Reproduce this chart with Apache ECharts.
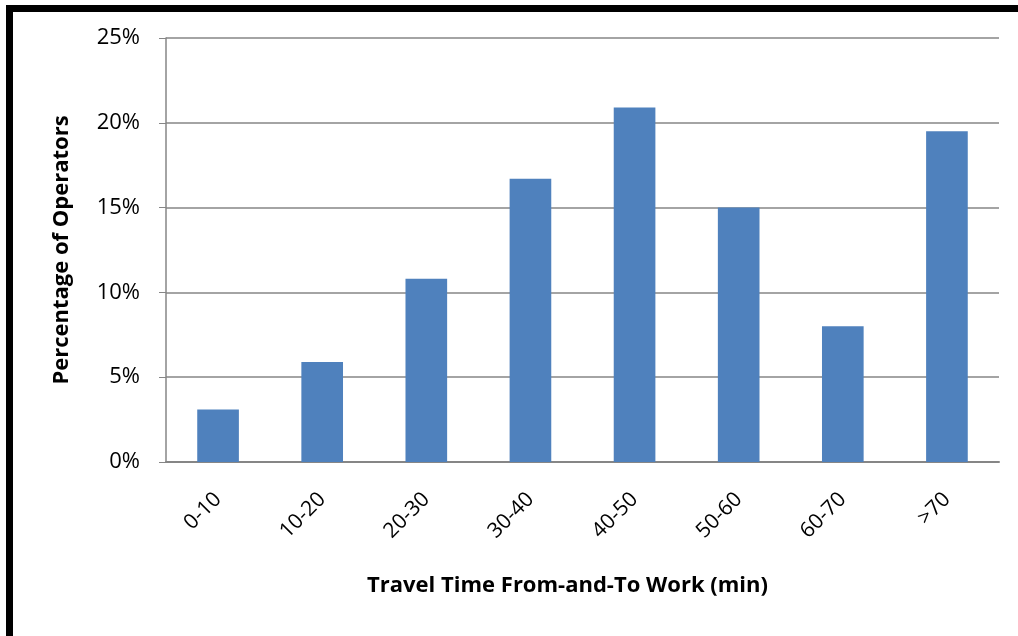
<!DOCTYPE html>
<html>
<head>
<meta charset="utf-8">
<script src="https://cdn.jsdelivr.net/npm/echarts@6/dist/echarts.min.js"></script>
<style>
  html, body { margin: 0; padding: 0; background: #fff; }
  #chart { width: 1018px; height: 636px; }
</style>
</head>
<body>
<div id="chart"></div>
<script>
const categories = ["0-10", "10-20", "20-30", "30-40", "40-50", "50-60", "60-70", ">70"];
const shares = [3.1, 5.9, 10.8, 16.7, 20.9, 15.0, 8.0, 19.5];
const yTicks = [0, 5, 10, 15, 20, 25];

const font = "Open Sans";
let chart = echarts.init(document.getElementById("chart"), null, { renderer: "canvas" });

let option = {
  backgroundColor: "#fff",
  animation: false,
  graphic: [
    // black frame around the picture (top and left only)
    { type: "rect", shape: { x: 6, y: 5, width: 1012, height: 7 }, style: { fill: "#000" } },
    { type: "rect", shape: { x: 6, y: 5, width: 7, height: 631 }, style: { fill: "#000" } }
  ],
  grid: { left: 166, right: 19, top: 38, bottom: 174 },
  xAxis: {
    type: "category",
    data: categories,
    name: "Travel Time From-and-To Work (min)",
    nameLocation: "middle",
    nameGap: 113,
    nameTextStyle: {
      fontFamily: font, fontSize: 22, fontWeight: "bold", color: "#000",
      padding: [0, 30, 0, 0] // title sits a bit left of the plot centre
    },
    axisLine: { lineStyle: { color: "#868686", width: 2 } },
    axisTick: { show: false },
    axisLabel: { rotate: 45, fontFamily: font, fontSize: 21, color: "#000", margin: 34 }
  },
  yAxis: {
    type: "value",
    min: yTicks[0],
    max: yTicks[yTicks.length - 1],
    interval: 5,
    name: "Percentage of Operators",
    nameLocation: "middle",
    nameGap: 93,
    nameTextStyle: { fontFamily: font, fontSize: 22, fontWeight: "bold", color: "#000" },
    axisLine: { show: true, lineStyle: { color: "#868686", width: 1.5 } },
    axisTick: { show: true, length: 7, lineStyle: { color: "#868686" } },
    splitLine: { lineStyle: { color: "#868686", width: 1.5 } },
    axisLabel: { formatter: "{value}%", fontFamily: font, fontSize: 22, color: "#000", margin: 26 }
  },
  series: [
    {
      type: "bar",
      data: shares,
      barWidth: "40%",
      itemStyle: { color: "#4f81bd" }
    }
  ]
};

option && chart.setOption(option);
</script>
</body>
</html>
